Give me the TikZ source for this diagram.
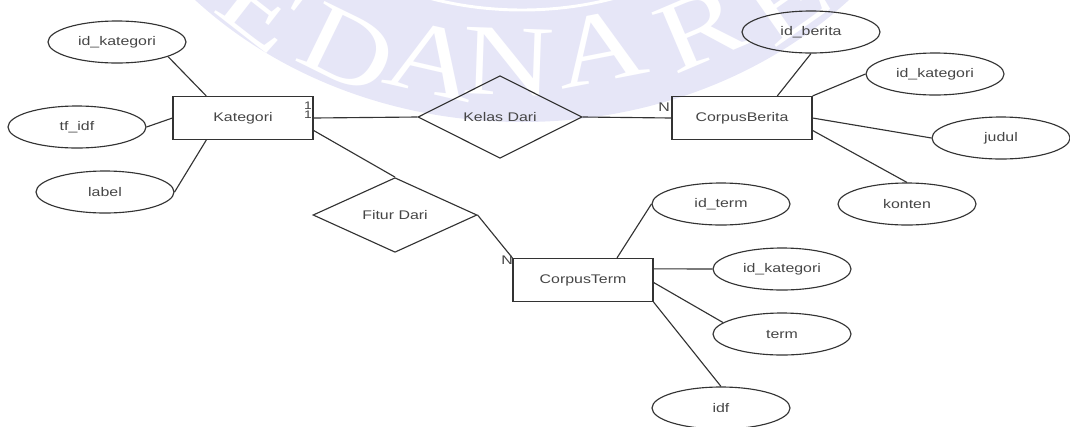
\documentclass[tikz,border=0pt]{standalone}
\usepackage{fontspec}
\setmainfont[FakeStretch=1.27]{Liberation Sans}
\newfontfamily\sealfont[FakeStretch=1.25]{Liberation Serif}
\usetikzlibrary{shapes.geometric,calc}

\definecolor{edge}{HTML}{333333}
\definecolor{ink}{HTML}{454545}
\definecolor{seal}{HTML}{E6E6F7}

\begin{document}
\begin{tikzpicture}[x=0.75pt,y=-0.75pt,
  label text/.style={font=\fontsize{9.4}{11}\selectfont, text=ink},
  entity/.style={label text, draw=edge, line width=0.85pt, rectangle,
    minimum width=105pt, minimum height=32.25pt, inner sep=0pt},
  attr/.style={label text, draw=edge, line width=0.85pt, ellipse,
    minimum width=103.5pt, minimum height=31.5pt, inner sep=0pt},
  rel/.style={label text, draw=edge, line width=0.85pt, diamond,
    minimum width=123pt, minimum height=48.75pt, inner sep=0pt},
  link/.style={draw=edge, line width=0.85pt},
  card/.style={inner sep=0pt, text=ink, font=\fontsize{9.4}{10}\selectfont},
  cardsmall/.style={inner sep=0pt, text=ink, font=\fontsize{8.2}{9}\selectfont},
  sealletter/.style={inner sep=0pt, text=white, font=\sealfont\fontsize{76}{76}\selectfont}]

\useasboundingbox (0,0) rectangle (1070,426);

% faint university seal in the background
\begin{scope}
  \clip (0,0) rectangle (1070,426);
  \coordinate (sc) at (522,-268);
  \fill[seal] (sc) ellipse [x radius=337.5pt, y radius=292.5pt];
  \draw[white, line width=2.2pt] (sc) ellipse [x radius=240pt, y radius=208.5pt];
  \node[sealletter, rotate=-38] (s1) at (262,8) {E};
  \node[sealletter, rotate=-26] (s2) at (348,50) {D};
  \node[sealletter, rotate=-13] (s3) at (433,60) {A};
  \node[sealletter, rotate=-2]  (s4) at (508,62) {N};
  \node[sealletter, rotate=11]  (s5) at (600,48) {A};
  \node[sealletter, rotate=23]  (s6) at (700,28) {R};
  \node[sealletter, rotate=35]  (s7) at (786,0)  {E};
\end{scope}

% entities
\node[entity] (kat) at (243,118) {Kategori};
\node[entity] (cb)  at (742,118) {CorpusBerita};
\node[entity] (ct)  at (583,280) {CorpusTerm};

% relationships
\node[rel] (kd) at (500,117) {Kelas Dari};
\node[rel] (fd) at (395,215) {Fitur Dari};

% attributes of Kategori
\node[attr] (ik1) at (117,42)  {id\_kategori};
\node[attr] (tf)  at (77,127)  {tf\_idf};
\node[attr] (lb)  at (105,192) {label};

% attributes of CorpusBerita
\node[attr] (ib)  at (811,32)   {id\_berita};
\node[attr] (ik2) at (935,74)   {id\_kategori};
\node[attr] (jd)  at (1001,138) {judul};
\node[attr] (kt)  at (907,204)  {konten};

% attributes of CorpusTerm
\node[attr] (it)  at (721,204) {id\_term};
\node[attr] (ik3) at (782,269) {id\_kategori};
\node[attr] (tm)  at (782,334) {term};
\node[attr] (idf) at (721,408) {idf};

% connectors
\draw[link] (ik1.-16) -- (kat.149);
\draw[link] (tf.east) -- (kat.west);
\draw[link] (lb.east) -- (kat.211);

\draw[link] (kat.east) -- (kd.west);
\draw[link] (kd.east) -- (cb.west);
\draw[link] (kat.-10) -- (fd.north);
\draw[link] (fd.east) -- (ct.north west);

\draw[link] (cb.32) -- (ib.south);
\draw[link] (cb.north east) -- (ik2.west);
\draw[link] (cb.east) -- (jd.west);
\draw[link] (cb.-10) -- (kt.north);

\draw[link] (ct.33) -- (it.west);
\draw[link] (ct.9) -- (ik3.west);
\draw[link] (ct.-2) -- (tm.169);
\draw[link] (ct.south east) -- (idf.north);

% cardinalities
\node[cardsmall] (one1) at (308,106) {1};
\node[cardsmall] (one2) at (308,115) {1};
\node[card] (n1) at (664,107) {N};
\node[card] (n2) at (507,260) {N};
\end{tikzpicture}
\end{document}
